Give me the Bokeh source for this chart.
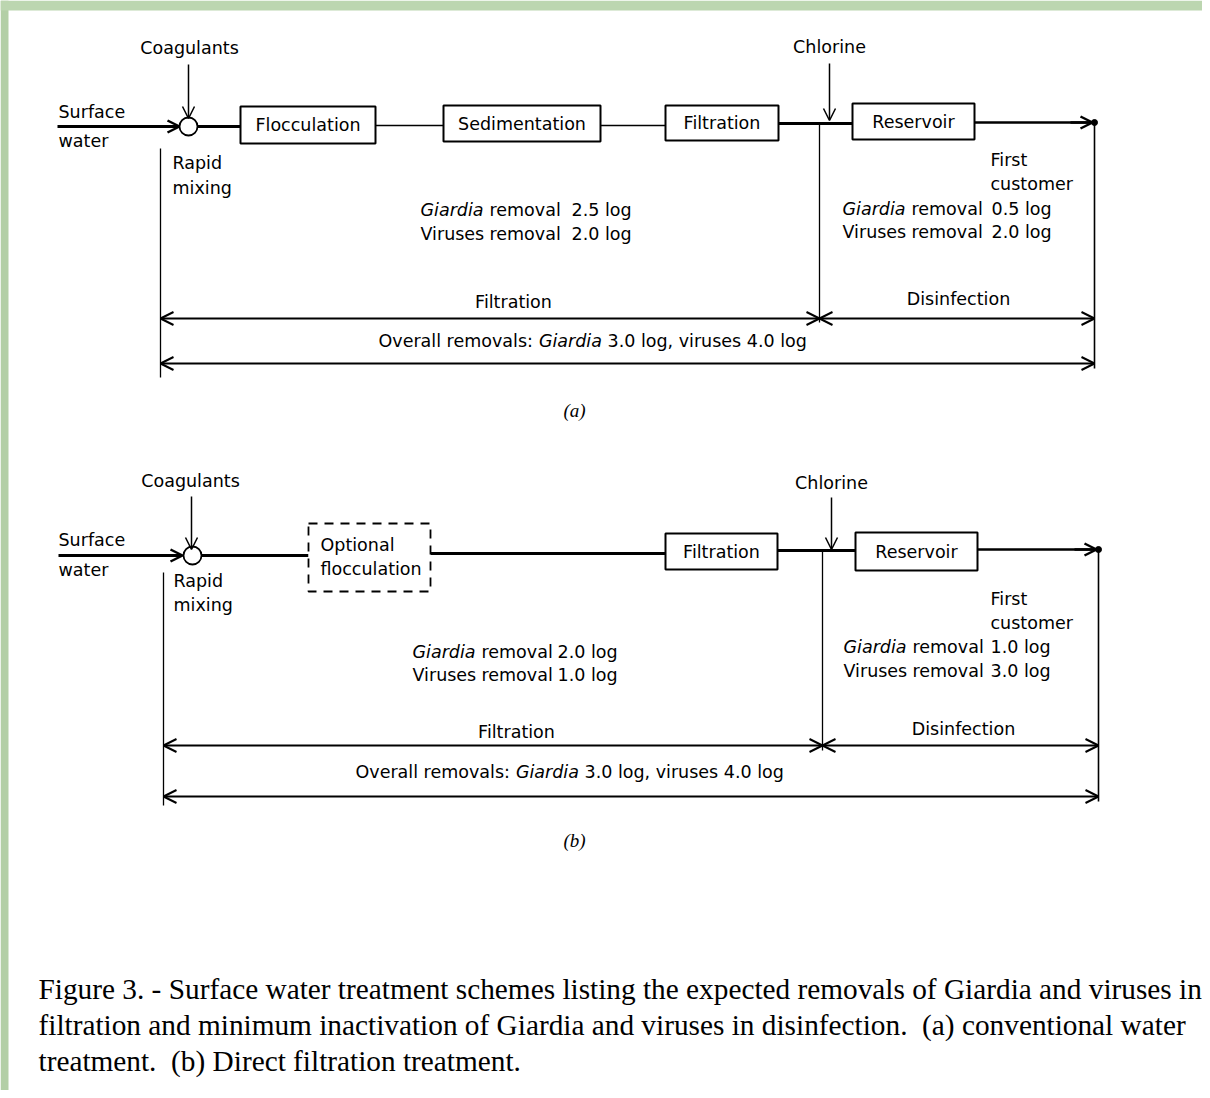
from bokeh.plotting import figure
from bokeh.models import Range1d, Arrow, OpenHead
from bokeh.core.properties import value
from bokeh.embed import file_html
from bokeh.resources import INLINE

# ---------------- content ----------------
inputs = ["Coagulants", "Chlorine"]
source_label = ["Surface", "water"]
mixing_label = ["Rapid", "mixing"]
customer_label = ["First", "customer"]
stages_a = ["Flocculation", "Sedimentation", "Filtration", "Reservoir"]
stages_b = ["Filtration", "Reservoir"]
optional_stage = ["Optional", "flocculation"]
organisms = ["Giardia", "Viruses"]
filtration_logs_a = ["2.5 log", "2.0 log"]
disinfection_logs_a = ["0.5 log", "2.0 log"]
filtration_logs_b = ["2.0 log", "1.0 log"]
disinfection_logs_b = ["1.0 log", "3.0 log"]
overall_logs = ["3.0 log", "4.0 log"]
span_labels = ["Filtration", "Disinfection"]
panel_tags = ["(a)", "(b)"]
caption_lines = [
    "Figure 3. - Surface water treatment schemes listing the expected removals of Giardia and viruses in",
    "filtration and minimum inactivation of Giardia and viruses in disinfection.\u00a0 (a) conventional water",
    "treatment.\u00a0 (b) Direct filtration treatment.",
]

# ---------------- layout (page pixel coordinates) ----------------
W, H = 1202, 1090
p = figure(width=W, height=H, output_backend="svg", toolbar_location=None,
           x_range=Range1d(0, W), y_range=Range1d(H, 0),
           x_axis_type=None, y_axis_type=None, min_border=0,
           background_fill_color="white", border_fill_color="white")
p.outline_line_color = None
p.grid.visible = False

SANS = value("DejaVu Sans")
SERIF = value("Liberation Serif")
FS = "17.5px"
GIARDIA_W = 68.6        # advance of "Giardia " at 17.5px
OVERALL_W = 160.4       # advance of "Overall removals: " at 17.5px

# scanned-page green edge
p.quad(left=[0], right=[8], top=[0], bottom=[H], fill_color="#b3cfa6", line_color=None)
p.quad(left=[0], right=[W], top=[0], bottom=[10], fill_color="#bcd6b0", line_color=None)


def txt(x, y, s, size=FS, align="left", style="normal", font=SANS, baseline="middle"):
    p.text(x=[x], y=[y], text=[s], text_font=font, text_font_size=size,
           text_align=align, text_baseline=baseline, text_font_style=style,
           text_color="black")


def seg(x0, y0, x1, y1, lw=1.5, dash="solid"):
    p.segment(x0=[x0], y0=[y0], x1=[x1], y1=[y1], line_color="black",
              line_width=lw, line_dash=dash)


def arrow(x0, y0, x1, y1, lw=2, size=13, both=False):
    kw = dict(end=OpenHead(size=size, line_width=lw, line_color="black"),
              x_start=x0, y_start=y0, x_end=x1, y_end=y1,
              line_width=lw, line_color="black")
    if both:
        kw["start"] = OpenHead(size=size, line_width=lw, line_color="black")
    p.add_layout(Arrow(**kw))


def box(l, r, t, b, lw=2, dash="solid"):
    p.quad(left=[l], right=[r], top=[t], bottom=[b], fill_color="white",
           line_color="black", line_width=lw, line_dash=dash)


def removal_block(x_cols, ys, logs):
    for i, org in enumerate(organisms):
        txt(x_cols[0], ys[i], org, style="italic" if org == "Giardia" else "normal")
        txt(x_cols[1], ys[i], "removal")
        txt(x_cols[2], ys[i], logs[i])


def overall(x_left, y):
    txt(x_left, y, "Overall removals:")
    txt(x_left + OVERALL_W, y, "Giardia", style="italic")
    txt(x_left + OVERALL_W + GIARDIA_W, y,
        "%s, viruses %s" % (overall_logs[0], overall_logs[1]))


# ======== panel (a) ========
seg(57, 126, 178, 126, lw=3)
arrow(160, 126, 179, 126, lw=2.5, size=12)
p.circle(x=[188], y=[126], radius=9, fill_color="white", line_color="black", line_width=1.8)
seg(197, 126, 240, 126, lw=3)
seg(375, 125, 443, 125, lw=1.5)
seg(600, 125, 665, 125, lw=1.5)
seg(778, 123, 852, 123, lw=3)
seg(974, 122, 1088, 122, lw=2.5)
arrow(1070, 122, 1092, 122, lw=2.5, size=12)
p.scatter(x=[1094], y=[122], size=6, color="black")

box_a_l = [240, 443, 665, 852]
box_a_r = [375, 600, 778, 974]
box_a_t = [106, 105, 105, 103]
box_a_b = [143, 141, 140, 139]
for i, s in enumerate(stages_a):
    box(box_a_l[i], box_a_r[i], box_a_t[i], box_a_b[i])
    txt((box_a_l[i] + box_a_r[i]) / 2, (box_a_t[i] + box_a_b[i]) / 2, s, align="center")

arrow(188, 64, 188, 118, lw=1.5, size=12)
arrow(829, 63, 829, 120, lw=1.5, size=12)
txt(189, 47, inputs[0], align="center")
txt(829, 46, inputs[1], align="center")
txt(58, 111, source_label[0]); txt(58, 140, source_label[1])
txt(172, 162, mixing_label[0]); txt(172, 187, mixing_label[1])
txt(990, 159, customer_label[0]); txt(990, 183, customer_label[1])

seg(160, 148, 160, 377, lw=1.3)
seg(819, 124, 819, 322, lw=1.3)
seg(1094, 122, 1094, 368, lw=1.6)

removal_block([420, 489, 571], [209, 233], filtration_logs_a)
removal_block([842, 911, 991], [208, 231], disinfection_logs_a)

arrow(160, 318, 819, 318, lw=2, size=13, both=True)
arrow(819, 318, 1094, 318, lw=2, size=13, both=True)
arrow(160, 363, 1094, 363, lw=2, size=13, both=True)
txt(513, 301, span_labels[0], align="center")
txt(958, 298, span_labels[1], align="center")
overall(378, 340)
txt(574, 410, panel_tags[0], size="19px", align="center", style="italic", font=SERIF)

# ======== panel (b) ========
seg(58, 555, 181, 555, lw=3)
arrow(163, 555, 182, 555, lw=2.5, size=12)
p.circle(x=[192], y=[555], radius=9, fill_color="white", line_color="black", line_width=1.8)
seg(201, 555, 308, 555, lw=3)
seg(430, 553, 665, 553, lw=3)
seg(777, 550, 855, 550, lw=3)
seg(977, 549, 1092, 549, lw=2.5)
arrow(1074, 549, 1096, 549, lw=2.5, size=12)
p.scatter(x=[1098], y=[549], size=6, color="black")

box(308, 430, 523, 591, lw=1.8, dash="9 7")
txt(320, 544, optional_stage[0]); txt(320, 568, optional_stage[1])

box_b_l = [665, 855]
box_b_r = [777, 977]
box_b_t = [533, 532]
box_b_b = [569, 570]
for i, s in enumerate(stages_b):
    box(box_b_l[i], box_b_r[i], box_b_t[i], box_b_b[i])
    txt((box_b_l[i] + box_b_r[i]) / 2, (box_b_t[i] + box_b_b[i]) / 2, s, align="center")

arrow(191, 496, 191, 549, lw=1.5, size=12)
arrow(831, 497, 831, 549, lw=1.5, size=12)
txt(190, 480, inputs[0], align="center")
txt(831, 482, inputs[1], align="center")
txt(58, 539, source_label[0]); txt(58, 569, source_label[1])
txt(173, 580, mixing_label[0]); txt(173, 604, mixing_label[1])
txt(990, 598, customer_label[0]); txt(990, 622, customer_label[1])

seg(163, 572, 163, 805, lw=1.3)
seg(822, 550, 822, 750, lw=1.3)
seg(1098, 549, 1098, 801, lw=1.6)

removal_block([412, 481, 557], [651, 674], filtration_logs_b)
removal_block([843, 912, 990], [646, 670], disinfection_logs_b)

arrow(163, 745, 822, 745, lw=2, size=13, both=True)
arrow(822, 745, 1098, 745, lw=2, size=13, both=True)
arrow(163, 796, 1098, 796, lw=2, size=13, both=True)
txt(516, 731, span_labels[0], align="center")
txt(963, 728, span_labels[1], align="center")
overall(355, 771)
txt(574, 840, panel_tags[1], size="19px", align="center", style="italic", font=SERIF)

# ======== caption ========
for i, line in enumerate(caption_lines):
    txt(38, 988 + 36 * i, line, size="29.3px", font=SERIF, baseline="alphabetic")

open("out.html", "w").write(file_html(p, INLINE))
